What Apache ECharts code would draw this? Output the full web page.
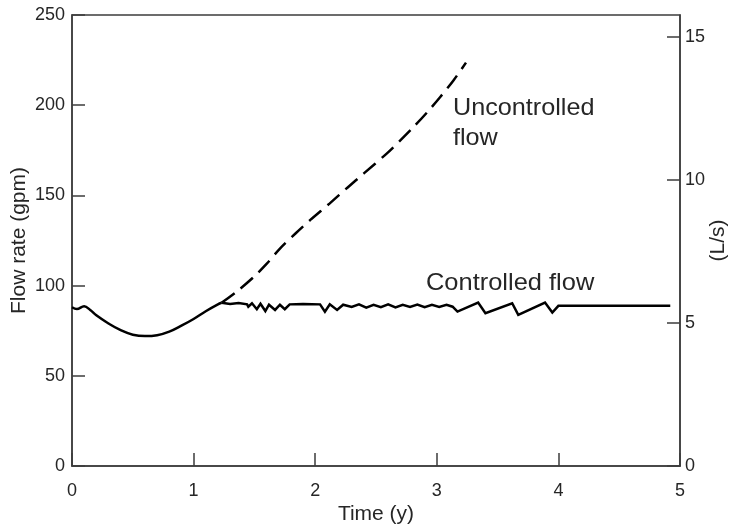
<!DOCTYPE html>
<html><head><meta charset="utf-8">
<script src="https://cdn.jsdelivr.net/npm/echarts@6/dist/echarts.min.js"></script>
<style>html,body{margin:0;padding:0;background:#fff}#c{width:735px;height:526px}</style>
</head><body><div id="c"></div>
<script>
// Time (years) and flow (gpm)
// smooth early part of the controlled curve
var earlyTime = [0, 0.04, 0.1, 0.15, 0.2, 0.3, 0.4, 0.5, 0.6, 0.7, 0.8, 0.9, 1.0, 1.1, 1.2, 1.23];
var earlyFlow = [88, 87, 88.5, 86.5, 83.5, 79, 75.3, 72.8, 72, 72.5, 74.5, 77.8, 81.5, 85.8, 89.6, 90.5];
// controlled (regulated) part with sawtooth
var ctrlTime = [1.23, 1.3, 1.37, 1.44, 1.45, 1.48, 1.52, 1.55, 1.59, 1.62, 1.67, 1.71, 1.75, 1.79, 1.9, 2.04, 2.08, 2.12, 2.18, 2.23,
  2.3, 2.36, 2.42, 2.48, 2.54, 2.6, 2.66, 2.72, 2.78, 2.84, 2.9, 2.96, 3.02, 3.08, 3.13, 3.17, 3.34, 3.40, 3.62, 3.67, 3.89, 3.95, 4.0, 4.92];
var ctrlFlow = [90.5, 89.8, 90.3, 89.6, 88.3, 90.2, 86.9, 89.9, 85.9, 89.4, 86.5, 89.4, 86.9, 89.6, 89.8, 89.6, 85.5, 89.6, 86.5, 89.4,
  88.2, 89.6, 87.8, 89.4, 88, 89.6, 87.9, 89.4, 88.2, 89.5, 88, 89.3, 88.2, 89.4, 88.3, 85.6, 90.6, 84.7, 90.2, 83.8, 90.6, 85.1, 88.8, 88.8];
var unctrlTime = [1.23, 1.36, 1.49, 1.6, 1.71, 1.84, 1.96, 2.12, 2.26, 2.40, 2.59, 2.70, 2.81, 2.92, 3.03, 3.14, 3.24];
var unctrlFlow = [90.5, 97, 104.5, 112, 120.5, 129, 136.4, 145.6, 154, 162.2, 173.3, 180.5, 188, 196, 204.7, 214, 223.6];
var xTicks = [0, 1, 2, 3, 4, 5];
var gpmTicks = [0, 50, 100, 150, 200, 250];
var lpsTicks = [0, 5, 10, 15];
var GPM_PER_LPS = 15.85;

function pairs(xs, ys) { return xs.map(function (t, i) { return [t, ys[i]]; }); }

var txt = '#262626', ax = '#3c3c3c', ff = '"Liberation Sans", Arial, sans-serif';
var chart = echarts.init(document.getElementById('c'), null, { renderer: 'canvas' });
chart.setOption({
  animation: false,
  backgroundColor: '#fff',
  grid: { left: 72, right: 55, top: 15, bottom: 60, containLabel: false, outerBoundsMode: 'none',
    show: true, borderColor: ax, borderWidth: 1.5 },
  xAxis: {
    type: 'value', min: xTicks[0], max: xTicks[xTicks.length - 1], interval: 1,
    name: 'Time (y)', nameLocation: 'middle', nameGap: 38, nameMoveOverlap: false,
    nameTextStyle: { color: txt, fontSize: 21, fontFamily: ff },
    axisLine: { lineStyle: { color: ax, width: 1.5 } },
    axisTick: { inside: true, length: 13, lineStyle: { color: ax, width: 1.5 } },
    axisLabel: { color: txt, fontSize: 18, fontFamily: ff, margin: 16 },
    splitLine: { show: false }
  },
  yAxis: [{
    type: 'value', min: gpmTicks[0], max: gpmTicks[gpmTicks.length - 1], interval: 50,
    name: 'Flow rate (gpm)', nameLocation: 'middle', nameGap: 42, nameRotate: 90, nameMoveOverlap: false,
    nameTextStyle: { color: txt, fontSize: 21, fontFamily: ff },
    axisLine: { show: true, lineStyle: { color: ax, width: 1.5 } },
    axisTick: { show: true, inside: true, length: 13, lineStyle: { color: ax, width: 1.5 } },
    axisLabel: { color: txt, fontSize: 18, fontFamily: ff, margin: 7 },
    splitLine: { show: false }
  }, {
    type: 'value', position: 'right', min: 0, max: gpmTicks[gpmTicks.length - 1] / GPM_PER_LPS, interval: 5,
    name: '(L/s)', nameLocation: 'middle', nameGap: 28, nameRotate: 90, nameMoveOverlap: false,
    nameTextStyle: { color: txt, fontSize: 21, fontFamily: ff },
    axisLine: { show: true, lineStyle: { color: ax, width: 1.5 } },
    axisTick: { show: true, inside: true, length: 13, lineStyle: { color: ax, width: 1.5 } },
    axisLabel: { color: txt, fontSize: 18, fontFamily: ff, margin: 5, showMaxLabel: false,
      formatter: function (v) { return lpsTicks.indexOf(v) >= 0 ? String(v) : ''; } },
    splitLine: { show: false }
  }],
  series: [{
    name: 'Uncontrolled flow', type: 'line', data: pairs(unctrlTime, unctrlFlow), showSymbol: false, symbol: 'none',
    smooth: 0.3, lineStyle: { color: '#000', width: 2.5, type: [16, 8] }, z: 2
  }, {
    name: 'Controlled flow (early)', type: 'line', data: pairs(earlyTime, earlyFlow), showSymbol: false, symbol: 'none',
    smooth: 0.4, lineStyle: { color: '#000', width: 2.5 }, z: 3
  }, {
    name: 'Controlled flow', type: 'line', data: pairs(ctrlTime, ctrlFlow), showSymbol: false, symbol: 'none',
    lineStyle: { color: '#000', width: 2.5, join: 'miter' }, z: 3
  }],
  graphic: [
    { type: 'text', left: 453, top: 93, scaleX: 1.05, style: { text: 'Uncontrolled\nflow', fill: txt, font: '24px ' + ff, lineHeight: 30 } },
    { type: 'text', left: 426, top: 271, scaleX: 1.06, style: { text: 'Controlled flow', fill: txt, font: '24px ' + ff } }
  ]
});
</script></body></html>
